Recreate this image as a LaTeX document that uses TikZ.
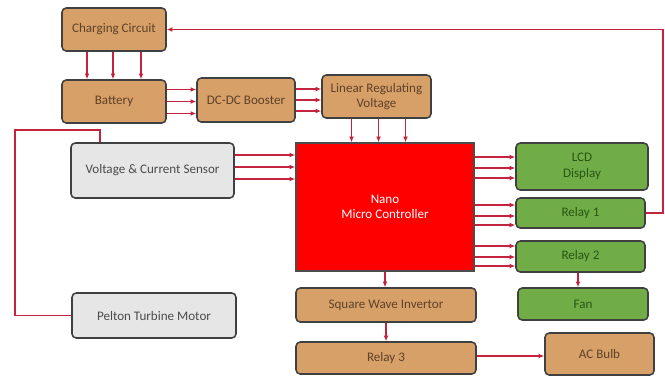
\documentclass[tikz,border=0pt]{standalone}
\usepackage{fontspec}
\setmainfont{Carlito}
\usetikzlibrary{arrows.meta}
\definecolor{wood}{RGB}{214,160,104}
\definecolor{woodtext}{RGB}{95,65,40}
\definecolor{leaf}{RGB}{112,173,71}
\definecolor{leaftext}{RGB}{40,85,20}
\definecolor{ash}{RGB}{230,230,230}
\definecolor{ashtext}{RGB}{75,75,75}
\definecolor{wire}{RGB}{195,35,60}
\newcommand{\pxu}{0.025cm}
\tikzset{
  block/.style={draw=black!75, line width=1.1pt, rounded corners=3pt, inner sep=0pt,
    align=center, font=\fontsize{9.3}{11}\selectfont},
  woodbox/.style={block, fill=wood, text=woodtext},
  leafbox/.style={block, fill=leaf, text=leaftext},
  ashbox/.style={block, fill=ash, text=ashtext},
  conn/.style={draw=wire, line width=1pt, -{Latex[length=4pt,width=3.5pt]}},
  wireline/.style={draw=wire, line width=1pt}
}
\begin{document}
\begin{tikzpicture}[x=0.025cm, y=-0.025cm]
\useasboundingbox (0,0) rectangle (665,378);
% blocks
\node[woodbox, minimum width=104*\pxu, minimum height=43*\pxu] (charge) at (114,29.5) {Charging Circuit};
\node[woodbox, minimum width=104*\pxu, minimum height=43*\pxu] (batt) at (114,101.5) {Battery};
\node[woodbox, minimum width=98*\pxu, minimum height=44*\pxu] (boost) at (246,100) {DC-DC Booster};
\node[woodbox, minimum width=109*\pxu, minimum height=43*\pxu] (linreg) at (376.5,96.5) {Linear Regulating\\Voltage};
\node[ashbox, minimum width=163*\pxu, minimum height=55*\pxu] (sensor) at (152.5,170.5) {Voltage \& Current Sensor};
\node[ashbox, minimum width=164*\pxu, minimum height=45*\pxu] (pelton) at (154,315.5) {Pelton Turbine Motor};
\node[block, fill=red, draw=black!70, rounded corners=0pt, text=white,
  minimum width=178*\pxu, minimum height=128*\pxu] (mcu) at (385,207) {Nano\\Micro Controller};
\node[leafbox, minimum width=132*\pxu, minimum height=47*\pxu] (lcd) at (582,166.5) {LCD\\Display};
\node[leafbox, minimum width=129*\pxu, minimum height=30*\pxu] (relayA) at (580.5,213) {Relay 1};
\node[leafbox, minimum width=129*\pxu, minimum height=31*\pxu] (relayB) at (580.5,256.5) {Relay 2};
\node[leafbox, minimum width=130*\pxu, minimum height=32*\pxu] (fan) at (583,304) {Fan};
\node[woodbox, minimum width=180*\pxu, minimum height=34*\pxu] (invert) at (386,305) {Square Wave Invertor};
\node[woodbox, minimum width=180*\pxu, minimum height=32*\pxu] (relayC) at (386,358) {Relay 3};
\node[woodbox, minimum width=109*\pxu, minimum height=42*\pxu] (bulb) at (599.5,354) {AC Bulb};
\coordinate (rim) at (663,0);
\coordinate (loop) at (15,130);
% bundles of three
\foreach \dx in {-27,-1,27}
  \draw[conn] ([xshift=\dx*\pxu]charge.south) -- ([xshift=\dx*\pxu]charge.south |- batt.north);
\foreach \dy in {12,0,-12}
  \draw[conn] ([yshift=\dy*\pxu]batt.east) -- ([yshift=\dy*\pxu]batt.east -| boost.west);
\foreach \dy in {11,0,-11}
  \draw[conn] ([yshift=\dy*\pxu]boost.east) -- ([yshift=\dy*\pxu]boost.east -| linreg.west);
\foreach \dx in {-25,2,29}
  \draw[conn] ([xshift=\dx*\pxu]linreg.south) -- ([xshift=\dx*\pxu]linreg.south |- mcu.north);
\foreach \dy in {15.5,3.5,-8.5}
  \draw[conn] ([yshift=\dy*\pxu]sensor.east) -- ([yshift=\dy*\pxu]sensor.east -| mcu.west);
\foreach \dy in {9.5,-1.5,-11.5}
  \draw[conn] ([yshift=\dy*\pxu]lcd.west -| mcu.east) -- ([yshift=\dy*\pxu]lcd.west);
\foreach \dy in {8,-3,-12}
  \draw[conn] ([yshift=\dy*\pxu]relayA.west -| mcu.east) -- ([yshift=\dy*\pxu]relayA.west);
\foreach \dy in {10.5,-0.5,-9.5}
  \draw[conn] ([yshift=\dy*\pxu]relayB.west -| mcu.east) -- ([yshift=\dy*\pxu]relayB.west);
% single links
\draw[conn] (mcu.south) -- (mcu.south |- invert.north);
\draw[conn] (invert.south) -- (invert.south |- relayC.north);
\draw[conn] ([xshift=-2.5*\pxu]relayB.south) -- ([xshift=-2.5*\pxu]relayB.south |- fan.north);
\draw[conn] ([yshift=2*\pxu]relayC.east) -- ([yshift=2*\pxu]relayC.east -| bulb.west);
\draw[conn] (relayA.east) -- (relayA.east -| rim) -- (rim |- charge.east) -- (charge.east);
\draw[wireline] (pelton.west) -- (pelton.west -| loop) -- (loop) -- ([xshift=-52.5*\pxu]sensor.north |- loop) -- ([xshift=-52.5*\pxu]sensor.north);
\end{tikzpicture}
\end{document}
